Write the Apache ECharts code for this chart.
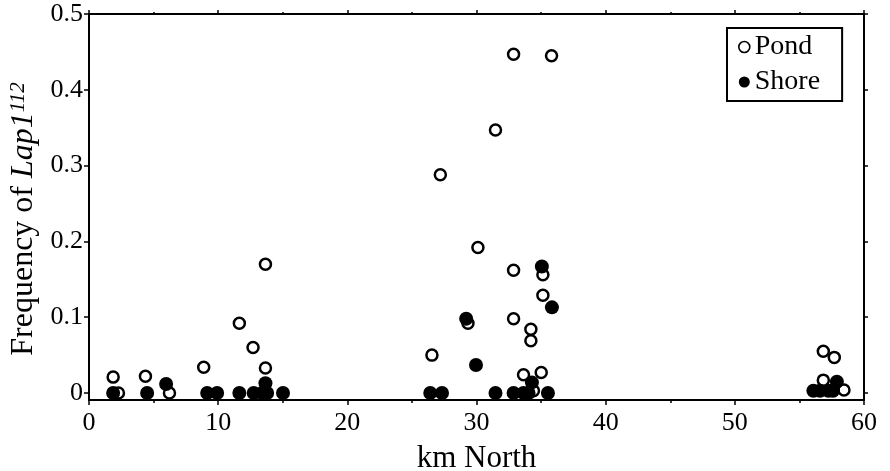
<!DOCTYPE html>
<html>
<head>
<meta charset="utf-8">
<script src="https://cdn.jsdelivr.net/npm/echarts@6/dist/echarts.min.js"></script>
<style>html,body{margin:0;padding:0;background:#fff}#c{width:890px;height:471px}</style>
</head>
<body>
<div id="c"></div>
<script>
// Pond (open circles)
const pondX = [1.87, 2.28, 4.37, 6.23, 8.88, 11.64, 12.7, 13.66, 13.66, 26.55, 27.2, 29.34, 30.11, 31.47, 32.87, 32.87, 32.87, 33.64, 34.21, 34.21, 34.41, 35.01, 35.14, 35.14, 35.81, 56.85, 57.7, 56.85, 58.45];
const pondY = [0.021, 0.0, 0.022, 0.0, 0.034, 0.092, 0.060, 0.033, 0.170, 0.050, 0.288, 0.092, 0.192, 0.347, 0.447, 0.162, 0.098, 0.024, 0.084, 0.069, 0.003, 0.027, 0.156, 0.129, 0.445, 0.055, 0.047, 0.017, 0.004];
// Shore (filled circles)
const shoreX = [1.87, 4.5, 5.97, 9.15, 9.92, 11.64, 12.75, 13.4, 13.66, 13.79, 15.02, 26.42, 27.33, 29.2, 29.96, 31.47, 32.87, 33.64, 34.03, 34.29, 35.06, 35.84, 35.53, 56.08, 56.6, 57.24, 57.6, 57.9];
const shoreY = [0.0, 0.0, 0.012, 0.0, 0.0, 0.0, 0.0, 0.0, 0.013, 0.0, 0.0, 0.0, 0.0, 0.098, 0.037, 0.0, 0.0, 0.0, 0.0, 0.014, 0.167, 0.113, 0.0, 0.003, 0.003, 0.003, 0.003, 0.015];
const yTicks = [0, 0.1, 0.2, 0.3, 0.4, 0.5];
const xMin = 0, xMax = 60, xStep = 10;
const yMin = -0.0092, yMax = 0.5;

const FONT = '"Liberation Serif", "DejaVu Serif", serif';
const zip = (xs, ys) => xs.map((x, i) => [x, ys[i]]);

const chart = echarts.init(document.getElementById('c'), null, {renderer: 'canvas'});
const lineStyle = {color: '#000', width: 2};
chart.setOption({
  animation: false,
  backgroundColor: '#fff',
  grid: {left: 89, right: 26, top: 14, bottom: 71, containLabel: false, outerBoundsMode: 'none'},
  legend: {
    orient: 'vertical', left: 727, top: 28,
    padding: [4, 22, 4, 11], itemGap: 5,
    itemWidth: 11, itemHeight: 11,
    borderColor: '#000', borderWidth: 2, backgroundColor: '#fff',
    textStyle: {fontFamily: FONT, fontSize: 28, color: '#000', lineHeight: 30},
    data: [
      {name: 'Pond', icon: 'circle', itemStyle: {color: '#fff', borderColor: '#000', borderWidth: 1.6}},
      {name: 'Shore', icon: 'circle', itemStyle: {color: '#000', borderWidth: 0}}
    ]
  },
  xAxis: [{
    type: 'value', min: xMin, max: xMax, interval: xStep, position: 'bottom',
    axisLine: {show: true, onZero: false, lineStyle},
    axisTick: {show: true, inside: false, length: 5, lineStyle: {color: '#000', width: 1.5}},
    minorTick: {show: true, splitNumber: 2, length: 3, lineStyle: {color: '#000', width: 1.5}},
    splitLine: {show: false},
    axisLabel: {fontFamily: FONT, fontSize: 26, color: '#000', margin: 10},
    name: 'km North', nameLocation: 'middle', nameGap: 43,
    nameTextStyle: {fontFamily: FONT, fontSize: 31, color: '#000'}
  }, {
    type: 'value', min: xMin, max: xMax, interval: xStep, position: 'top',
    axisLine: {show: true, onZero: false, lineStyle},
    axisTick: {show: true, inside: false, length: 4, lineStyle: {color: '#000', width: 1.5}},
    minorTick: {show: true, splitNumber: 2, length: 2, lineStyle: {color: '#000', width: 1.5}},
    splitLine: {show: false},
    axisLabel: {show: false}
  }],
  yAxis: [{
    type: 'value', min: yMin, max: yMax, position: 'left',
    axisLine: {show: true, onZero: false, lineStyle},
    axisTick: {show: true, inside: false, length: 5, customValues: yTicks, lineStyle: {color: '#000', width: 1.5}},
    splitLine: {show: false},
    axisLabel: {fontFamily: FONT, fontSize: 26, color: '#000', margin: 6, customValues: yTicks,
      formatter: v => String(Math.round(v * 10) / 10)},
    name: 'Frequency of {i|Lap1}{s|112}', nameLocation: 'middle', nameGap: 46, nameRotate: 90,
    nameTextStyle: {
      fontFamily: FONT, fontSize: 32, color: '#000', padding: [0, 24, 0, 0],
      rich: {
        i: {fontFamily: FONT, fontSize: 32, fontStyle: 'italic', color: '#000'},
        s: {fontFamily: FONT, fontSize: 21, fontStyle: 'italic', color: '#000', verticalAlign: 'top', lineHeight: 20}
      }
    }
  }, {
    type: 'value', min: yMin, max: yMax, position: 'right',
    axisLine: {show: true, onZero: false, lineStyle},
    axisTick: {show: true, inside: false, length: 4, customValues: yTicks, lineStyle: {color: '#000', width: 1.5}},
    splitLine: {show: false},
    axisLabel: {show: false}
  }],
  series: [{
    name: 'Pond', type: 'scatter', xAxisIndex: 0, yAxisIndex: 0,
    symbol: 'circle', symbolSize: 11,
    itemStyle: {color: '#fff', borderColor: '#000', borderWidth: 2.5, opacity: 1},
    data: zip(pondX, pondY), z: 3
  }, {
    name: 'Shore', type: 'scatter', xAxisIndex: 0, yAxisIndex: 0,
    symbol: 'circle', symbolSize: 14,
    itemStyle: {color: '#000', borderWidth: 0, opacity: 1},
    data: zip(shoreX, shoreY), z: 4
  }]
});
</script>
</body>
</html>
